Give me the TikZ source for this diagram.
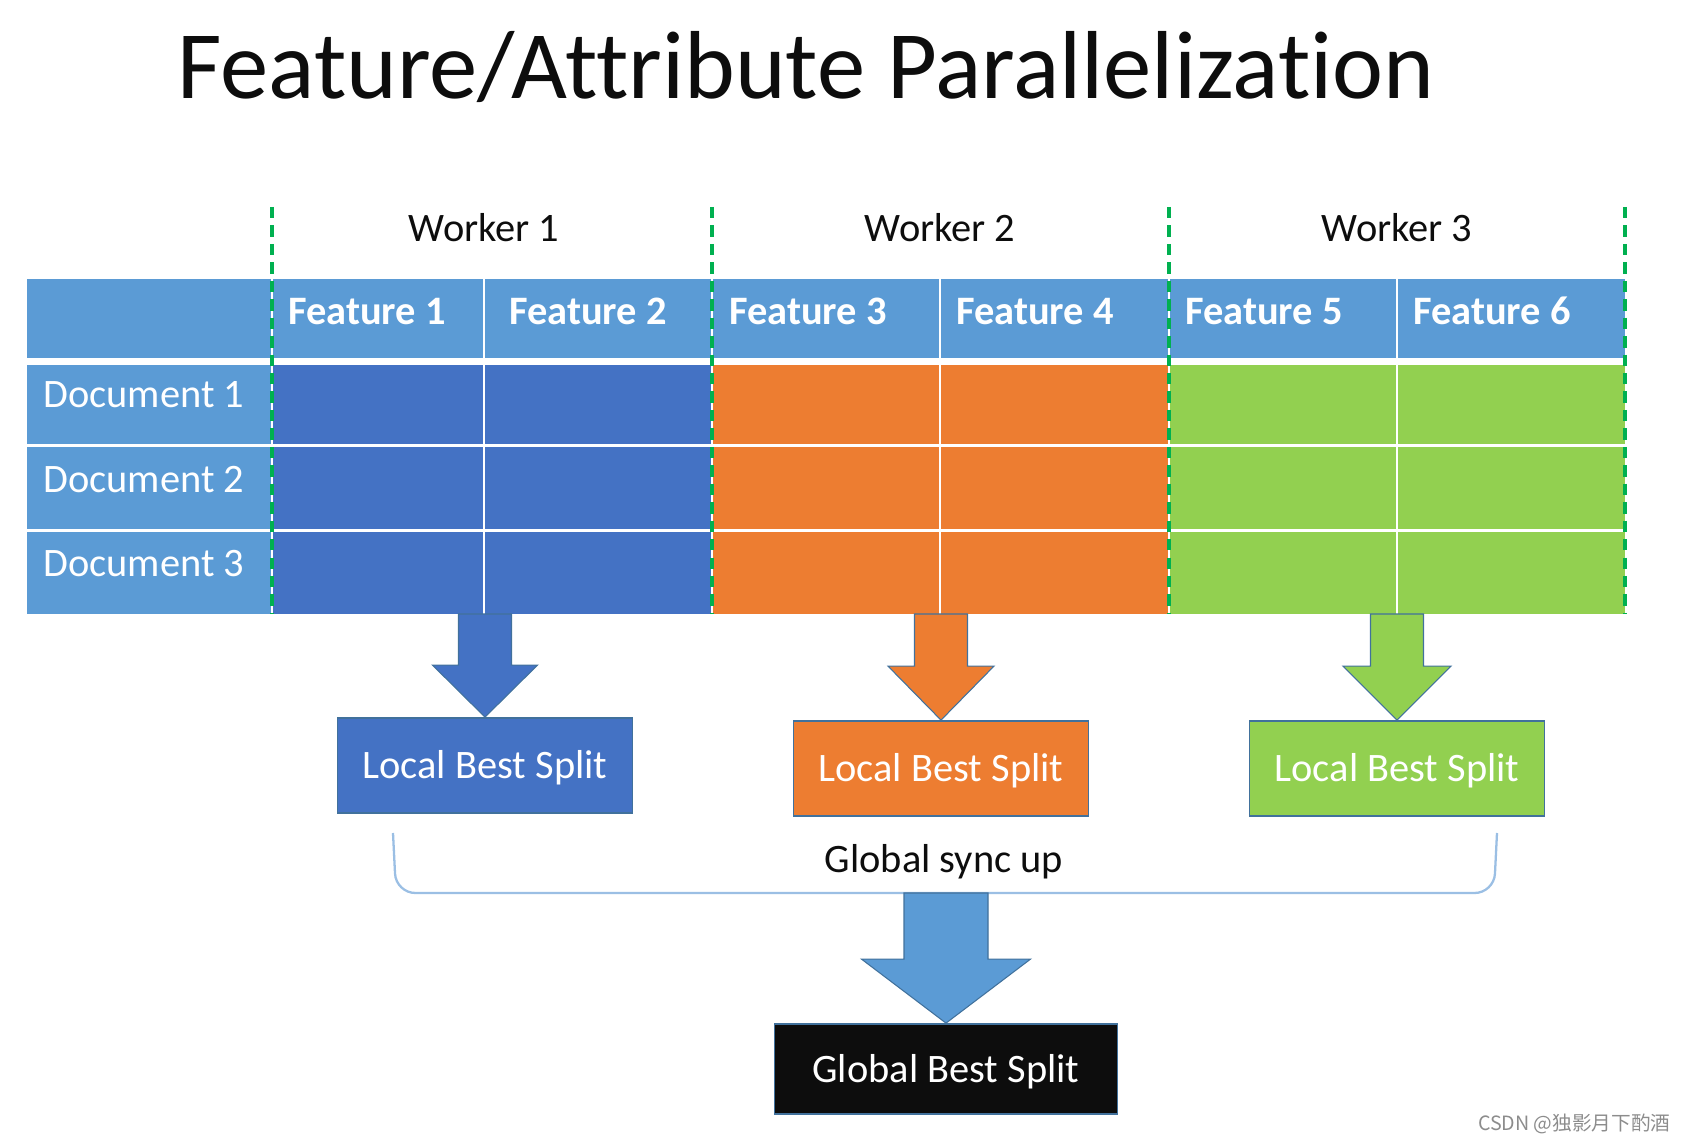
\documentclass[tikz,border=0pt]{standalone}
\usepackage{fontspec}
\setmainfont{Carlito}[Ligatures={NoCommon}]
\newfontfamily\cjkfont{Noto Sans CJK SC}
\usetikzlibrary{calc}
\definecolor{hdrblue}{HTML}{5B9BD5}
\definecolor{wblue}{HTML}{4472C4}
\definecolor{worange}{HTML}{ED7D31}
\definecolor{wgreen}{HTML}{92D050}
\definecolor{dashgreen}{HTML}{00B050}
\definecolor{edge}{HTML}{41719C}
\definecolor{bracecol}{HTML}{9BBFE4}
\definecolor{inkblack}{HTML}{0D0D0D}

% block arrow: colour, from, to, half shaft, half head, head length
\newcommand{\blockarrow}[6]{%
  \filldraw[fill=#1, draw=edge, line width=0.6pt]
    ($(#2)+(-#4,0)$) -- ($(#3)+(-#4,-#6)$) -- ($(#3)+(-#5,-#6)$) -- (#3)
    -- ($(#3)+(#5,-#6)$) -- ($(#3)+(#4,-#6)$) -- ($(#2)+(#4,0)$) -- cycle;}

\begin{document}
\begin{tikzpicture}[x=0.02cm, y=-0.02cm,
    title/.style={font=\fontsize{55}{60}\selectfont, text=inkblack, inner sep=0},
    lbl/.style={font=\fontsize{23}{27}\selectfont, inner sep=0},
    feat/.style={lbl, font=\fontsize{23}{27}\selectfont\bfseries, text=white},
    sep/.style={draw=white, line width=1.6pt},
    wdash/.style={draw=dashgreen, line width=2pt, dash pattern=on 6.5pt off 4pt},
    lbox/.style={lbl, draw=edge, line width=1pt, text=white, minimum width=5.9cm,
                 minimum height=1.9cm, text height=14.8pt, text depth=0pt},
    brace/.style={draw=bracecol, line width=1.3pt, rounded corners=11pt}]
  \useasboundingbox (0,0) rectangle (1685,1141);

  \node[title, anchor=base] (title) at (806,99) {Feature/Attribute Parallelization};

  % table
  \fill[hdrblue] (27,279) rectangle (1625,358);
  \fill[hdrblue] (27,365) rectangle (272,614);
  \fill[wblue] (272,365) rectangle (712,614);
  \fill[worange] (712,365) rectangle (1169,614);
  \fill[wgreen] (1169,365) rectangle (1625,614);
  \foreach \y in {445.5,530.5}
    \draw[sep] (27,\y) -- (1625,\y);
  \foreach \x in {272,484,712,940,1169,1397}
    \draw[sep] (\x,279) -- (\x,614);
  \foreach \x in {272,712,1169,1625}
    \draw[wdash] (\x,207) -- (\x,614);

  \foreach \n/\x in {1/484,2/940,3/1397}
    \node[lbl, anchor=base, text=inkblack] (worker\n) at (\x,242) {Worker \n};
  \foreach \n/\x in {1/288,2/509,3/729,4/956,5/1185,6/1413}
    \node[feat, anchor=base west] (feat\n) at (\x,325) {Feature \n};
  \foreach \n/\y in {1/408,2/493,3/577}
    \node[lbl, anchor=base west, text=white] (doc\n) at (43,\y) {Document \n};

  % local splits
  \coordinate (w1) at (485,614);
  \coordinate (w2) at (941,614);
  \coordinate (w3) at (1397,614);
  \node[lbox, fill=wblue] (lbs1) at (485,765.5) {Local Best Split};
  \node[lbox, fill=worange] (lbs2) at (941,768.5) {Local Best Split};
  \node[lbox, fill=wgreen] (lbs3) at (1397,768.5) {Local Best Split};

  \blockarrow{wblue}{w1}{lbs1.north}{26.5}{52.5}{52}
  \blockarrow{worange}{w2}{lbs2.north}{26.5}{53}{54}
  \blockarrow{wgreen}{w3}{lbs3.north}{26.5}{54}{54}

  % sync
  \coordinate (sync) at (946,893);
  \draw[brace] (393,833) -- (396,893) -- (sync) -- (1494,893) -- (1497,833);
  \node[lbl, anchor=base, text=inkblack] (synclbl) at (944,873) {Global sync up};

  \node[lbox, fill=inkblack, minimum width=6.86cm, minimum height=1.8cm] (gbs) at (946,1069) {Global Best Split};
  \blockarrow{hdrblue}{sync}{gbs.north}{42}{84.5}{64}

  \node[anchor=base east, text=black!45, inner sep=0,
        font=\cjkfont\fontsize{11.2}{13}\selectfont] (wm) at (1671,1131) {CSDN @独影月下酌酒};
\end{tikzpicture}
\end{document}
